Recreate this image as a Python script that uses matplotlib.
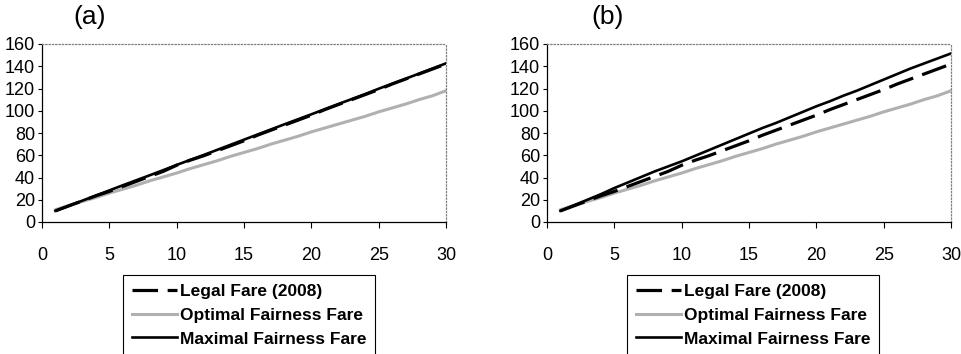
"""Fare comparison charts: legal fare vs. fairness fares."""

import matplotlib
matplotlib.use("Agg")
import matplotlib.pyplot as plt

plt.rcParams['font.family'] = ['Liberation Sans', 'DejaVu Sans']

WIDTH = 962
HEIGHT = 354
DPI = 100

# distance (x axis)
distance = list(range(1, 31))

legal_fare = [10, 14.5, 19, 23.5, 27.5, 32, 36.5, 41, 45.5, 51,
              55.5, 59.5, 64, 68.5, 73, 78, 82.5, 87, 91.5, 96,
              101, 105.5, 110, 114.5, 119, 124, 128.5, 133, 137.5, 142]

optimal_fare = [11, 15, 18.5, 22, 26, 29.5, 33, 37, 40.5, 44,
                48, 51.5, 55, 59, 62.5, 66, 70, 73.5, 77, 81,
                84.5, 88, 91.5, 95, 99, 102.5, 106, 110, 113.5, 118]

maximal_fare_a = [10, 14.6, 19.2, 23.8, 28.4, 33, 37.5, 42, 46.6, 51.3,
                  55.8, 60.2, 64.8, 69.4, 74, 78.6, 83.2, 87.8, 92.3, 96.8,
                  101.4, 106, 110.5, 115, 119.8, 124.3, 128.8, 133.4, 138, 142.6]

maximal_fare_b = [10, 15, 20, 25, 30.5, 35.5, 40.5, 45.5, 50, 54.5,
                  59.5, 64.5, 69.5, 74.5, 79.5, 84.5, 89, 94, 99, 104,
                  108.5, 113.5, 118, 123, 128, 133, 138, 142.5, 147, 151.5]

labels = ['Legal Fare (2008)', 'Optimal Fairness Fare', 'Maximal Fairness Fare']
panel_titles = ['(a)', '(b)']
x_ticks = [0, 5, 10, 15, 20, 25, 30]
y_ticks = [0, 20, 40, 60, 80, 100, 120, 140, 160]


def px(x, y):
    """pixel position (from top left) -> figure fraction"""
    return x / WIDTH, 1 - y / HEIGHT


def draw_panel(fig, left_px, maximal, title, title_x_px, legend_x_px):
    x0, y0 = px(left_px, 222)
    ax = fig.add_axes([x0, y0, 404 / WIDTH, 178 / HEIGHT])

    ax.plot(distance, legal_fare, color='black', lw=2.3, dashes=(8, 3),
            label=labels[0], zorder=3)
    ax.plot(distance, optimal_fare, color='#b0b0b0', lw=2.2,
            label=labels[1], zorder=2)
    ax.plot(distance, maximal, color='black', lw=1.9,
            label=labels[2], zorder=4)

    ax.set_xlim(0, 30)
    ax.set_ylim(0, 160)
    ax.set_xticks(x_ticks)
    ax.set_yticks(y_ticks)
    ax.tick_params(axis='x', length=4, width=0.8, pad=14, labelsize=13)
    ax.tick_params(axis='y', length=3, width=0.8, pad=2, labelsize=13)

    for side in ('top', 'right'):
        ax.spines[side].set_linestyle(':')
        ax.spines[side].set_color('#808080')
        ax.spines[side].set_linewidth(0.9)
    for side in ('left', 'bottom'):
        ax.spines[side].set_linewidth(0.9)

    fig.text(*px(title_x_px, 17), title, fontsize=19, ha='center', va='center')

    leg = ax.legend(loc='upper left', bbox_to_anchor=px(legend_x_px, 275),
                    bbox_transform=fig.transFigure, borderaxespad=0,
                    fancybox=False, edgecolor='black', framealpha=1,
                    prop={'weight': 'bold', 'size': 12.5},
                    handlelength=2.6, handletextpad=0.2, labelspacing=0.5,
                    borderpad=0.5)
    leg.get_frame().set_linewidth(0.8)
    return ax


fig = plt.figure(figsize=(WIDTH / DPI, HEIGHT / DPI), dpi=DPI)

draw_panel(fig, 42, maximal_fare_a, panel_titles[0], 90, 123)
draw_panel(fig, 547, maximal_fare_b, panel_titles[1], 608, 627)

fig.savefig('out.png', dpi=DPI)
